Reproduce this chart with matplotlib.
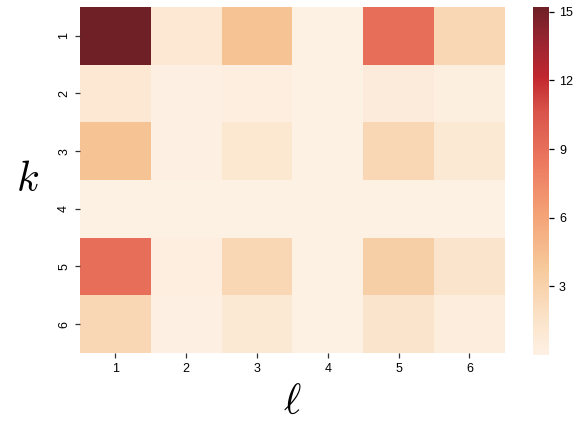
import numpy as np
import matplotlib
matplotlib.use("Agg")
import matplotlib.pyplot as plt
from matplotlib.colors import LinearSegmentedColormap

rows = ["1", "2", "3", "4", "5", "6"]
cols = ["1", "2", "3", "4", "5", "6"]
row1 = [15.2, 1.0, 4.2, 0.05, 9.0, 2.6]
row2 = [1.0, 0.15, 0.35, 0.02, 0.6, 0.25]
row3 = [4.2, 0.2, 1.1, 0.05, 2.6, 0.9]
row4 = [0.05, 0.02, 0.05, 0.0, 0.05, 0.03]
row5 = [9.0, 0.3, 2.6, 0.05, 3.3, 1.4]
row6 = [2.6, 0.2, 0.9, 0.03, 1.4, 0.5]
values = np.array([row1, row2, row3, row4, row5, row6])
cbar_ticks = [3, 6, 9, 12, 15]

cmap = LinearSegmentedColormap.from_list(
    "ref",
    [(0.0, "#fdf1e4"), (0.12, "#fbe0c4"), (0.25, "#f6c99b"), (0.4, "#f4a377"),
     (0.55, "#ec7a60"), (0.7, "#d9544a"), (0.8, "#c1272f"), (0.9, "#9a2530"),
     (1.0, "#6f1f26")])

plt.rcParams["mathtext.fontset"] = "cm"
plt.rcParams["font.family"] = ["Liberation Sans", "DejaVu Sans"]

fig = plt.figure(figsize=(5.79, 4.40), dpi=100)
ax = fig.add_axes([0.138, 0.198, 0.734, 0.786])
cax = fig.add_axes([0.9206, 0.193, 0.028, 0.791])

mesh = ax.pcolormesh(values, cmap=cmap, vmin=values.min(), vmax=values.max())
ax.set_xlim(0, len(cols))
ax.set_ylim(len(rows), 0)
ax.set_xticks(np.arange(len(cols)) + 0.5)
ax.set_xticklabels(cols, fontsize=9)
ax.set_yticks(np.arange(len(rows)) + 0.5)
ax.set_yticklabels(rows, fontsize=9, rotation=90, va="center")
for s in ax.spines.values():
    s.set_visible(False)
ax.tick_params(length=3.5, width=0.9, color="#333333")
ax.set_xlabel(r"$\ell$", fontsize=30, labelpad=6)
ax.set_ylabel(r"$k$", fontsize=30, rotation=0, labelpad=22, va="center")

cb = fig.colorbar(mesh, cax=cax)
cb.set_ticks(cbar_ticks)
cb.ax.tick_params(labelsize=9, length=3.5, width=0.9)
cb.outline.set_visible(False)

fig.savefig("out.png", dpi=100)
